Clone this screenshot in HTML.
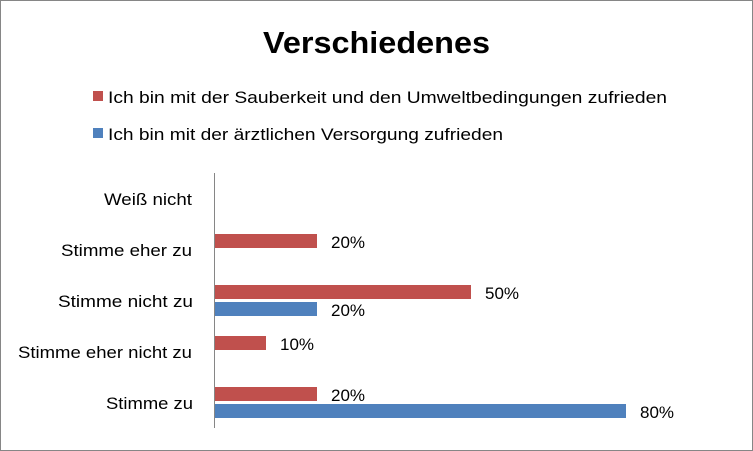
<!DOCTYPE html>
<html><head><meta charset="utf-8"><style>
body{margin:0;background:#fff}
svg{display:block}
text{font-family:"Liberation Sans",sans-serif;fill:#000}
</style></head><body>
<svg width="753" height="451" viewBox="0 0 753 451">
<rect x="0.5" y="0.5" width="752" height="450" fill="#fff" stroke="#868686"/>
<text x="263" y="53" font-size="31" font-weight="bold" textLength="227" lengthAdjust="spacingAndGlyphs">Verschiedenes</text>
<rect x="93" y="91" width="10" height="10" fill="#c0504d"/>
<text x="108" y="103" font-size="17" textLength="559" lengthAdjust="spacingAndGlyphs">Ich bin mit der Sauberkeit und den Umweltbedingungen zufrieden</text>
<rect x="93" y="128" width="10" height="10" fill="#4f81bd"/>
<text x="108" y="140" font-size="17" textLength="395" lengthAdjust="spacingAndGlyphs">Ich bin mit der ärztlichen Versorgung zufrieden</text>
<line x1="214.5" y1="173" x2="214.5" y2="428" stroke="#868686"/>
<g font-size="17" lengthAdjust="spacingAndGlyphs">
<text x="104" y="205" textLength="88" lengthAdjust="spacingAndGlyphs">Weiß nicht</text>
<text x="61" y="256" textLength="131" lengthAdjust="spacingAndGlyphs">Stimme eher zu</text>
<text x="58" y="307" textLength="135" lengthAdjust="spacingAndGlyphs">Stimme nicht zu</text>
<text x="18" y="358" textLength="174" lengthAdjust="spacingAndGlyphs">Stimme eher nicht zu</text>
<text x="106" y="409" textLength="87" lengthAdjust="spacingAndGlyphs">Stimme zu</text>
</g>
<g fill="#c0504d">
<rect x="215" y="234" width="102" height="14"/>
<rect x="215" y="285" width="256" height="14"/>
<rect x="215" y="336" width="51" height="14"/>
<rect x="215" y="387" width="102" height="14"/>
</g>
<g fill="#4f81bd">
<rect x="215" y="302" width="102" height="14"/>
<rect x="215" y="404" width="411" height="14"/>
</g>
<g font-size="17">
<text x="331" y="248">20%</text>
<text x="485" y="299">50%</text>
<text x="331" y="316">20%</text>
<text x="280" y="350">10%</text>
<text x="331" y="401">20%</text>
<text x="640" y="418">80%</text>
</g>
</svg>
</body></html>
